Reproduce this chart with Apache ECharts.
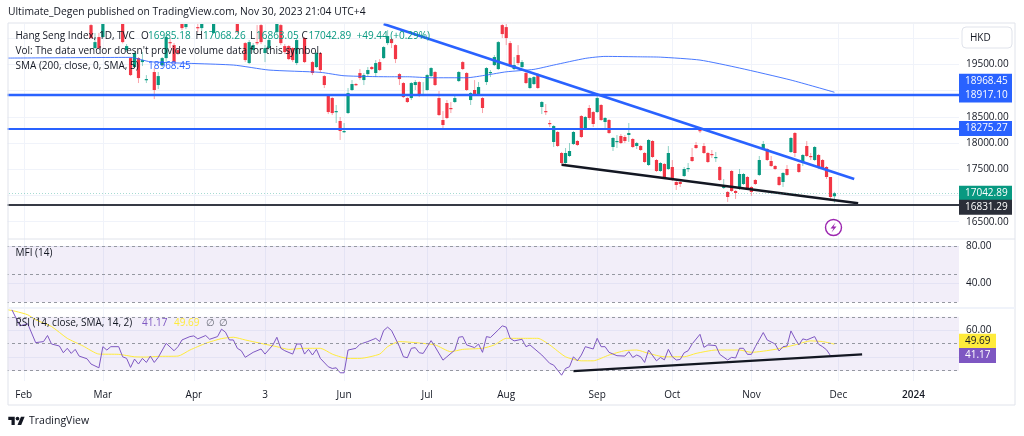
<!DOCTYPE html>
<html>
<head>
<meta charset="utf-8">
<title>Hang Seng Index</title>
<script src="https://cdn.jsdelivr.net/npm/echarts@6/dist/echarts.min.js"></script>
<style>
  html, body { margin: 0; padding: 0; background: #fff; }
  #chart { width: 1024px; height: 436px; }
</style>
</head>
<body>
<div id="chart"></div>
<script>
const FONT = '"Open Sans", sans-serif';
const UP = '#089981';
const DOWN = '#F23645';
const BLUE = '#2962FF';

// month labels and the bar they sit on
const monthLabels = ['Feb', 'Mar', 'Apr', '3', 'Jun', 'Jul', 'Aug', 'Sep', 'Oct', 'Nov', 'Dec', '2024'];
const monthBars = [4, 24, 47, 65, 85, 106, 126, 149, 168, 188, 210, 229];
const barCount = 241;

const priceTicks = [16500, 17000, 17500, 18000, 18500, 19000, 19500, 20000];
const priceLabels = [16500, 17500, 18000, 18500, 19500];

// the bars before firstCandle are above the top of the pane
const firstCandle = 21;
// open, close, low, high
const candles = [
  [20249, 20002, 19983, 20300], [19811, 19925, 19792, 20097], [20021, 19811, 19790, 20100], [20021, 20350, 20000, 20450],
  null, null, null, null,
  [20300, 19925, 19900, 20400], [19773, 19849, 19735, 19887], [19620, 19296, 19277, 19640], [19449, 19716, 19430, 19735],
  [19620, 19239, 19144, 19640], [19544, 19582, 19468, 19735], [19201, 19220, 19144, 19296], null,
  [19354, 19011, 18839, 19430], [19106, 19277, 19030, 19354], [19487, 19620, 19449, 19640], [19620, 20021, 19544, 20097],
  [19925, 19906, 19811, 20002], [19868, 19544, 19506, 19906], [19773, 19716, 19678, 19811], [20300, 20192, 20154, 20350],
  [20211, 20300, 20173, 20350], null, null, [20211, 20192, 20116, 20300],
  [20192, 20300, 20135, 20350], null, null, [20097, 20300, 20078, 20350],
  null, null, null, null, null,
  [20300, 20116, 20078, 20350], null, [19906, 19582, 19544, 19925], [19525, 19925, 19506, 19964],
  [19773, 19868, 19716, 19906], [19925, 19906, 19868, 20250], [20249, 19925, 19887, 20300], [19716, 19811, 19544, 19868],
  [19811, 19964, 19773, 20002], null, [20116, 20300, 20078, 20350], [20249, 19906, 19868, 20300],
  [19849, 19735, 19697, 19887], [19849, 19601, 19582, 19868], [19811, 19582, 19544, 19830], [19525, 19964, 19487, 19983],
  null, [20002, 19544, 19525, 20021], null, [19544, 19335, 19296, 19563],
  [19449, 19716, 19430, 19735], [19716, 19392, 19335, 19735], [19277, 19106, 19049, 19296], [18915, 18591, 18553, 18934],
  [18858, 18572, 18534, 18877], [18591, 18610, 18382, 18725], [18420, 18229, 18058, 18496], [18210, 18229, 18191, 18382],
  [18572, 18953, 18553, 19049], [19011, 19125, 18992, 19201], [19125, 19106, 19087, 19144], [19335, 19239, 19201, 19411],
  [19201, 19296, 19106, 19335], [19315, 19392, 19277, 19449], [19449, 19411, 19392, 19468], [19335, 19525, 19258, 19582],
  [19544, 19392, 19373, 19601], [19620, 19830, 19601, 19849], [19906, 20040, 19868, 20154], [19983, 19906, 19811, 20002],
  [19868, 19601, 19525, 19887], [19315, 19220, 19106, 19335], [19144, 18877, 18858, 19163], [18858, 18782, 18763, 18877],
  [18858, 19144, 18820, 19163], [19106, 19163, 19011, 19201], [19163, 18915, 18877, 19182], [18915, 18934, 18896, 19163],
  [19011, 19296, 18992, 19315], [19277, 19430, 19258, 19449], [19354, 19106, 19087, 19373], [18858, 18534, 18515, 18992],
  [18439, 18344, 18286, 18610], [18763, 18477, 18458, 18820], [18668, 18648, 18572, 18782], [18782, 18858, 18763, 18915],
  [19182, 19354, 19163, 19373], [19544, 19411, 19392, 19563], [19335, 19011, 18992, 19354], [18820, 18953, 18725, 18972],
  [19011, 18915, 18896, 19201], [18915, 19068, 18896, 19163], [18858, 18668, 18572, 18877], [19163, 19430, 19106, 19449],
  [19335, 19354, 19258, 19392], [19487, 19640, 19468, 19678], [19411, 19925, 19392, 19945], [20249, 20078, 20002, 20269],
  [20211, 20002, 19868, 20269], [19906, 19487, 19449, 19945], [19411, 19487, 19392, 19640], [19678, 19525, 19487, 19868],
  [19449, 19544, 19430, 19582], [19335, 19144, 19125, 19354], [19049, 19239, 19030, 19258], [19125, 19258, 19106, 19277],
  [19315, 19049, 19030, 19335], [18687, 18782, 18553, 18801], [18610, 18591, 18534, 18744], [18382, 18363, 18305, 18439],
  [18020, 18324, 17924, 18343], [18210, 17943, 17924, 18229], [17810, 17619, 17581, 17830], [17619, 17810, 17600, 17905],
  [17753, 17848, 17734, 18000], [17981, 18210, 17962, 18230], [18039, 17962, 17943, 18058], [18515, 18115, 18096, 18534],
  [18267, 18496, 18248, 18515], [18668, 18477, 18439, 18725], [18591, 18363, 18305, 18610], [18591, 18858, 18572, 18915],
  [18725, 18439, 18420, 18744], [18401, 18477, 18286, 18496], [18439, 18191, 18172, 18458], [17924, 18096, 17848, 18115],
  [18020, 18039, 17905, 18153], [18134, 18000, 17981, 18172], [18115, 18039, 18000, 18153], [18153, 18191, 18020, 18382],
  [18077, 17924, 17905, 18096], [17943, 18000, 17886, 18020], [17943, 17867, 17848, 17962], [17810, 17638, 17619, 17829],
  [17581, 18058, 17562, 18077], [18039, 17734, 17715, 18058], [17676, 17467, 17448, 17695], [17467, 17619, 17448, 17638],
  [17600, 17352, 17333, 17619], [17505, 17810, 17486, 17943], [17543, 17314, 17276, 17676], [17257, 17200, 17105, 17276],
  [17257, 17219, 17162, 17276], [17371, 17505, 17352, 17543], [17505, 17524, 17448, 17619], [17734, 17657, 17638, 17905],
  [17962, 17905, 17886, 18020], [18248, 18229, 18191, 18286], [17943, 17810, 17791, 18000], [17810, 17638, 17619, 17829],
  [17791, 17772, 17715, 17867], [17715, 17734, 17638, 17829], [17543, 17295, 17276, 17562], [17143, 17200, 17124, 17314],
  [17067, 16971, 16876, 17086], [17467, 17086, 17067, 17486], [17086, 17047, 16933, 17105], [17124, 17410, 17105, 17505],
  [17219, 17410, 17200, 17429], [17352, 17124, 17105, 17371], [17162, 17067, 16990, 17181], [17295, 17219, 17200, 17314],
  [17391, 17676, 17371, 17753], [17886, 17981, 17867, 18039], [17886, 17676, 17657, 17905], [17657, 17562, 17543, 17753],
  [17562, 17505, 17486, 17581], [17352, 17200, 17181, 17371], [17257, 17429, 17162, 17448], [17505, 17391, 17371, 17581],
  [17829, 18096, 17810, 18115], [18191, 17810, 17734, 18210], [17600, 17448, 17429, 17619], [17619, 17772, 17562, 17791],
  [17943, 17753, 17734, 18039], [17753, 17734, 17676, 17810], [17676, 17924, 17657, 17943], [17772, 17524, 17505, 17791],
  [17676, 17524, 17505, 17695], [17543, 17352, 17314, 17562], [17352, 16971, 16895, 17352], [16985.18, 17042.89, 16863.05, 17068.26]
];

// bar, value: the corners
const smaPoints = [
  [0, 19620], [31, 19633], [36, 19550], [57, 19487], [66, 19392], [79, 19348], [85, 19283], [96, 19264],
  [101, 19264], [107, 19245], [116, 19245], [121, 19296], [126, 19358], [133, 19405], [138, 19487], [146, 19614],
  [151, 19652], [160, 19644], [165, 19638], [175, 19582], [185, 19430], [198, 19201], [209, 18968.45]
];
const rsiPoints = [
  [1, 75.2], [3, 63.3], [5, 64.8], [7, 50.8], [9, 51.6], [10, 56.1], [11, 49.8], [13, 48.3], [14, 43.3], [15, 46.6],
  [16, 42.8], [17, 45.8], [18, 40.8], [20, 38.8], [21, 34.9], [23, 32.1], [24, 47.8], [25, 45.3], [26, 47.8], [28, 47.8],
  [29, 40.3], [30, 39.1], [31, 32.4], [32, 38.6], [33, 34.9], [34, 39.1], [35, 36.1], [36, 40.8], [37, 36.1], [38, 39.9],
  [40, 50.3], [42, 44.8], [43, 47.8], [44, 52.8], [46, 55.3], [47, 55.8], [48, 53.6], [50, 56.1], [51, 53.3], [53, 55.3],
  [54, 60.8], [55, 58.6], [56, 52.8], [57, 52.8], [58, 46.6], [59, 44.8], [60, 39.9], [62, 43.6], [64, 46.1], [65, 42.3],
  [67, 49.1], [68, 54.8], [69, 46.6], [70, 44.8], [72, 42.3], [73, 49.8], [74, 49.8], [75, 42.3], [76, 45.8], [77, 41.6],
  [78, 45.8], [79, 39.1], [81, 32.9], [82, 31.6], [83, 32.1], [84, 28.4], [85, 28.4], [86, 45.3], [88, 46.6], [89, 49.6],
  [91, 51.6], [93, 54.0], [94, 51.6], [95, 59.8], [96, 62.3], [97, 59.8], [99, 47.8], [100, 40.3], [101, 39.6], [102, 46.6],
  [103, 47.1], [104, 43.3], [105, 42.8], [107, 52.3], [108, 47.8], [110, 37.8], [111, 40.3], [113, 45.3], [114, 54.8], [115, 55.3],
  [116, 49.1], [118, 47.1], [119, 49.8], [120, 43.6], [121, 55.3], [122, 54.6], [124, 60.3], [125, 63.3], [126, 62.3], [127, 54.0],
  [128, 52.1], [130, 53.3], [131, 47.8], [132, 49.1], [135, 41.6], [137, 35.4], [138, 34.1], [140, 26.6], [141, 31.6], [142, 32.9],
  [143, 40.3], [144, 37.3], [145, 41.6], [146, 47.8], [148, 46.1], [149, 54.0], [150, 47.8], [151, 47.8], [152, 43.6], [154, 41.1],
  [156, 40.8], [157, 44.1], [158, 39.8], [159, 41.6], [160, 40.3], [161, 36.1], [162, 45.3], [164, 37.3], [165, 39.8], [166, 38.0],
  [167, 45.8], [168, 40.3], [169, 37.9], [170, 38.3], [171, 43.3], [172, 44.8], [173, 49.8], [175, 57.0], [176, 47.3], [177, 49.1],
  [179, 48.6], [180, 42.1], [182, 37.9], [183, 39.9], [184, 39.4], [185, 46.6], [186, 46.6], [187, 42.1], [188, 42.1], [189, 47.8],
  [191, 58.3], [192, 52.8], [194, 49.8], [195, 44.6], [196, 47.8], [197, 48.3], [198, 59.5], [199, 54.0], [200, 49.1], [201, 53.6],
  [202, 52.8], [204, 55.3], [205, 49.6], [206, 47.8], [207, 45.5], [208, 41.17]
];
const rsiMaPoints = [
  [0, 75.2], [2, 74.0], [5, 71.5], [7, 67.8], [11, 62.8], [15, 54.0], [19, 48.3], [23, 42.3], [28, 42.1], [32, 40.3],
  [35, 40.1], [38, 40.6], [43, 40.8], [46, 45.3], [50, 50.3], [54, 53.8], [57, 54.8], [60, 52.8], [65, 49.6], [68, 47.8],
  [71, 45.8], [75, 46.6], [79, 46.6], [82, 42.3], [84, 40.3], [86, 39.1], [89, 39.1], [94, 42.3], [96, 47.8], [99, 51.6],
  [103, 50.8], [108, 49.1], [112, 44.1], [115, 45.8], [120, 46.6], [123, 49.1], [126, 54.0], [130, 54.0], [134, 54.0], [137, 49.1],
  [141, 40.3], [145, 37.3], [148, 37.3], [152, 41.6], [156, 44.8], [159, 45.3], [162, 42.8], [166, 40.3], [171, 40.3], [174, 42.8],
  [179, 45.3], [185, 45.3], [188, 43.6], [194, 45.8], [199, 49.1], [203, 52.1], [206, 51.6], [209, 49.69]
];

// hand drawn lines, ends as bar and value
const blueTrend = [[95, 20270], [214, 17314]];
const blackTrend = [[140, 17587], [215, 16851]];
const rsiTrend = [[143, 29.6], [216, 42.1]];

const legendLines = [
  ['Hang Seng Index, 1D, TVC', 15.5, 36, '#131722'],
  ['O', 141, 36, '#131722'], ['16985.18', 148, 36, UP],
  ['H', 195.5, 36, '#131722'], ['17068.26', 203, 36, UP],
  ['L', 250, 36, '#131722'], ['16863.05', 256, 36, UP],
  ['C', 301.5, 36, '#131722'], ['17042.89', 308.5, 36, UP],
  ['+49.44 (+0.29%)', 356.5, 36, UP],
  ["Vol: The data vendor doesn't provide volume data for this symbol.", 15.5, 51, '#131722'],
  ['SMA (200, close, 0, SMA, 5)', 15.5, 66, '#131722'], ['18968.45', 148, 66, BLUE],
  ['MFI (14)', 15.5, 253, '#131722'],
  ['RSI (14, close, SMA, 14, 2)', 15.5, 323, '#131722'],
  ['41.17', 142, 323, '#7E57C2'], ['49.69', 174, 323, '#FFEB3B'],
  ['∅', 205.5, 323, '#6A6D78'], ['∅', 218.5, 323, '#6A6D78']
];

const barRows = [];
candles.forEach((c, k) => { if (c) barRows.push([firstCandle + k].concat(c)); });
const barNames = Array.from({ length: barCount }, (_, i) => String(i));

function renderCandle(params, api) {
  const i = api.value(0);
  const open = api.value(1);
  const close = api.value(2);
  const color = close >= open ? UP : DOWN;
  const x = api.coord([i, open])[0];
  const top = api.coord([i, Math.max(open, close)])[1];
  const bottom = api.coord([i, Math.min(open, close)])[1];
  return {
    type: 'group',
    children: [{
      type: 'line',
      shape: { x1: x, y1: api.coord([i, api.value(4)])[1], x2: x, y2: api.coord([i, api.value(3)])[1] },
      style: { stroke: color, lineWidth: 1, opacity: 0.45 }
    }, {
      type: 'rect',
      shape: { x: x - 1.6, y: top, width: 3.2, height: Math.max(bottom - top, 1.2) },
      style: { fill: color }
    }]
  };
}

// a level with its price tag on the scale
function level(value, text, bg, fg, width, dy, lineStyle) {
  return {
    yAxis: value,
    lineStyle: lineStyle,
    label: {
      show: true, position: 'end', distance: 0, formatter: text, offset: [0, dy],
      color: fg, backgroundColor: bg, fontFamily: FONT, fontSize: 10,
      width: width - 12, height: 15, lineHeight: 15, padding: [0, 6],
      align: 'left', verticalAlign: 'middle'
    }
  };
}

function dashed(value) {
  return { yAxis: value, lineStyle: { color: '#9598A1', width: 1, type: [3, 3] }, label: { show: false } };
}

const noLine = { color: 'rgba(0,0,0,0)', width: 0 };

function xAxisFor(gridIndex, showLabels) {
  return {
    type: 'category', gridIndex: gridIndex, data: barNames, boundaryGap: true,
    axisLine: { show: false }, axisTick: { show: false },
    splitLine: {
      show: true, alignWithLabel: true,
      interval: (i) => monthBars.includes(i),
      lineStyle: { color: '#F0F3FA', width: 1 }
    },
    axisLabel: {
      show: showLabels, margin: 9, fontFamily: FONT, fontSize: 10, color: '#131722',
      interval: (i) => monthBars.includes(i),
      formatter: (v, i) => {
        const t = monthLabels[monthBars.indexOf(i)];
        return t === '2024' ? '{year|2024}' : t;
      },
      rich: { year: { fontFamily: FONT, fontSize: 10, fontWeight: 600, color: '#131722' } }
    }
  };
}

function yAxisFor(gridIndex, min, max, ticks, labels) {
  return {
    type: 'value', gridIndex: gridIndex, position: 'right', min: min, max: max, scale: true,
    axisLine: { show: false },
    axisTick: { show: false, customValues: ticks },
    splitLine: { show: true, lineStyle: { color: '#F0F3FA', width: 1 } },
    axisLabel: {
      margin: 7, fontFamily: FONT, fontSize: 10, color: '#131722',
      customValues: labels,
      formatter: (v) => v.toFixed(2)
    }
  };
}

const textEls = legendLines.map((l) => ({
  type: 'text', x: l[1], y: l[2], z: 200, silent: true,
  style: { text: l[0], fill: l[3], font: '10px ' + FONT, textVerticalAlign: 'middle' }
}));

const LOGO_SCALE = 0.46;

const option = {
  animation: false,
  backgroundColor: '#fff',
  grid: [
    { left: 6, top: 24, width: 953, height: 215 },
    { left: 6, top: 239, width: 953, height: 69 },
    { left: 6, top: 309, width: 953, height: 72 }
  ],
  xAxis: [xAxisFor(0, false), xAxisFor(1, false), xAxisFor(2, true)],
  yAxis: [
    yAxisFor(0, 16170, 20270, priceTicks, priceLabels),
    yAxisFor(1, 13.9, 87.5, [40, 80], [40, 80]),
    yAxisFor(2, 22.3, 75.8, [40, 60], [60])
  ],
  series: [
    {
      type: 'custom', name: 'Hang Seng Index', xAxisIndex: 0, yAxisIndex: 0, clip: true,
      data: barRows, encode: { x: 0, y: [1, 2, 3, 4] }, renderItem: renderCandle, z: 2
    },
    {
      type: 'line', name: 'SMA', xAxisIndex: 0, yAxisIndex: 0, data: smaPoints, showSymbol: false,
      lineStyle: { color: BLUE, width: 1, opacity: 0.85 }, smooth: 0.2, z: 3
    },
    {
      type: 'line', name: 'levels', xAxisIndex: 0, yAxisIndex: 0, data: [], z: 4,
      markLine: {
        silent: true, symbol: 'none', animation: false, z: 6,
        data: [
          level(18968.45, '18968.45', BLUE, '#fff', 53, -11, noLine),
          level(18917.10, '18917.10', BLUE, '#fff', 53, 0, { color: BLUE, width: 2.4, type: 'solid' }),
          level(18275.27, '18275.27', BLUE, '#fff', 53, 0, { color: BLUE, width: 1.8, type: 'solid' }),
          level(17042.89, '17042.89', UP, '#fff', 53, 0, { color: 'rgba(8,153,129,0.6)', width: 0.6, type: [1, 2] }),
          level(16831.29, '16831.29', '#2A2E39', '#fff', 53, 3, { color: '#363A45', width: 2, type: 'solid' })
        ]
      }
    },
    {
      type: 'line', name: 'trend down', xAxisIndex: 0, yAxisIndex: 0, data: blueTrend, showSymbol: false,
      lineStyle: { color: BLUE, width: 2.6 }, clip: true, z: 5
    },
    {
      type: 'line', name: 'trend low', xAxisIndex: 0, yAxisIndex: 0, data: blackTrend, showSymbol: false,
      lineStyle: { color: '#131722', width: 2.4 }, z: 5
    },
    {
      type: 'line', name: 'MFI', xAxisIndex: 1, yAxisIndex: 1, data: [],
      markArea: { silent: true, itemStyle: { color: 'rgba(126,87,194,0.1)' }, data: [[{ yAxis: 80 }, { yAxis: 20 }]] },
      markLine: { silent: true, symbol: 'none', animation: false, data: [dashed(80), dashed(50), dashed(20)] }
    },
    {
      type: 'line', name: 'RSI', xAxisIndex: 2, yAxisIndex: 2, data: rsiPoints, showSymbol: false,
      lineStyle: { color: '#7E57C2', width: 1 }, z: 4,
      markArea: { silent: true, itemStyle: { color: 'rgba(126,87,194,0.1)' }, data: [[{ yAxis: 70 }, { yAxis: 30 }]] },
      markLine: {
        silent: true, symbol: 'none', animation: false,
        data: [
          dashed(70), dashed(50), dashed(30),
          level(49.69, '49.69', '#FFEB3B', '#131722', 37, -3, noLine),
          level(41.17, '41.17', '#7E57C2', '#fff', 37, 0, noLine)
        ]
      }
    },
    {
      type: 'line', name: 'RSI MA', xAxisIndex: 2, yAxisIndex: 2, data: rsiMaPoints, showSymbol: false,
      lineStyle: { color: '#FFEB3B', width: 1 }, smooth: 0.2, z: 3
    },
    {
      type: 'line', name: 'trend rsi', xAxisIndex: 2, yAxisIndex: 2, data: rsiTrend, showSymbol: false,
      lineStyle: { color: '#131722', width: 2.2 }, z: 5
    }
  ],
  graphic: [
    { type: 'rect', z: 150, silent: true, shape: { x: 0, y: 20, width: 7.5, height: 390 }, style: { fill: '#fff' } },
    { type: 'rect', z: 151, silent: true, shape: { x: 8, y: 23, width: 1007, height: 382 }, style: { fill: 'transparent', stroke: '#E0E3EB', lineWidth: 1 } },
    { type: 'line', z: 151, silent: true, shape: { x1: 8, y1: 239, x2: 1015, y2: 239 }, style: { stroke: '#E0E3EB', lineWidth: 1 } },
    { type: 'line', z: 151, silent: true, shape: { x1: 8, y1: 308, x2: 1015, y2: 308 }, style: { stroke: '#F0F3FA', lineWidth: 2 } },
    { type: 'text', x: 8, y: 12, z: 200, style: { text: 'Ultimate_Degen published on TradingView.com, Nov 30, 2023 21:04 UTC+4', fill: '#131722', font: '10.3px ' + FONT, textVerticalAlign: 'middle' } },
    { type: 'rect', z: 160, silent: true, shape: { x: 962, y: 27, width: 50, height: 21, r: 4 }, style: { fill: '#fff', stroke: '#E0E3EB', lineWidth: 1 } },
    { type: 'text', x: 970, y: 38, z: 161, style: { text: 'HKD', fill: '#131722', font: '10px ' + FONT, textVerticalAlign: 'middle' } },
    { type: 'circle', z: 160, silent: true, shape: { cx: 833.5, cy: 227.5, r: 8 }, style: { fill: '#fff', stroke: '#9C27B0', lineWidth: 1.4 } },
    { type: 'polygon', z: 161, silent: true, shape: { points: [[835.5, 222.5], [830.5, 228.5], [833.5, 228.5], [831.5, 232.5], [836.5, 226.5], [833.5, 226.5]] }, style: { fill: '#9C27B0' } },
    { type: 'polygon', z: 200, silent: true, x: 8.3, y: 414.9, scaleX: LOGO_SCALE, scaleY: LOGO_SCALE, shape: { points: [[14, 22], [7, 22], [7, 11], [0, 11], [0, 4], [14, 4]] }, style: { fill: '#131722' } },
    { type: 'polygon', z: 200, silent: true, x: 8.3, y: 414.9, scaleX: LOGO_SCALE, scaleY: LOGO_SCALE, shape: { points: [[28, 22], [20, 22], [27.5, 4], [35.5, 4]] }, style: { fill: '#131722' } },
    { type: 'circle', z: 200, silent: true, shape: { cx: 17.5, cy: 418.6, r: 1.84 }, style: { fill: '#131722' } },
    { type: 'text', x: 29, y: 421, z: 200, style: { text: 'TradingView', fill: '#131722', font: '500 10.5px ' + FONT, textVerticalAlign: 'middle' } }
  ].concat(textEls)
};

const myChart = echarts.init(document.getElementById('chart'), null, { renderer: 'canvas' });
myChart.setOption(option);
</script>
</body>
</html>
